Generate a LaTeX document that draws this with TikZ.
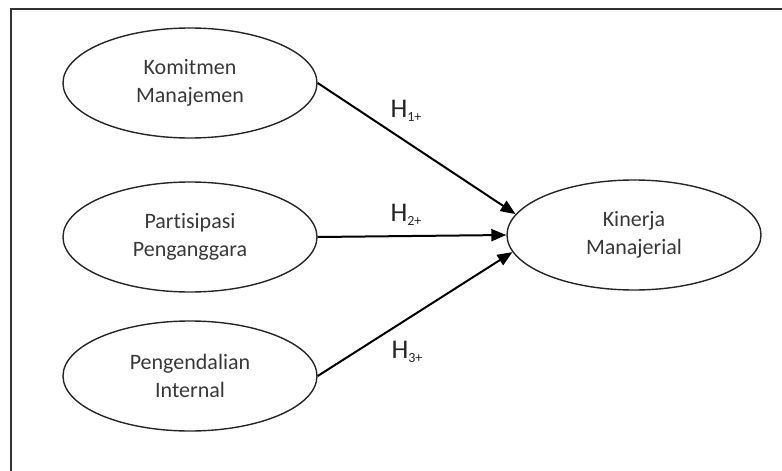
\documentclass[tikz,border=0pt]{standalone}
\usepackage{fontspec}
\setmainfont{Carlito}[RawFeature={-liga;-clig;-calt;-dlig}]
\usetikzlibrary{shapes.geometric,arrows.meta}
\newcommand{\hsubtxt}[1]{\raisebox{-4pt}{\fontsize{14}{14}\selectfont #1}}
\tikzset{
  latent/.style={ellipse,draw=black!85,line width=1.4pt,minimum width=254pt,minimum height=110pt,inner sep=0pt,align=center,text=black!78,font=\fontsize{22}{28}\selectfont},
  hyparrow/.style={line width=2pt,-{Triangle[length=15pt,width=12pt]}},
  hlabel/.style={inner sep=0pt,font=\fontsize{27}{27}\selectfont,text=black!85},
  framestyle/.style={line width=1.5pt,draw=black!80}
}
\begin{document}
\begin{tikzpicture}[x=1pt,y=-1pt]
\useasboundingbox (0,0) rectangle (782,471);
\draw[framestyle] (11,471) -- (11,9) -- (782,9);
\node[latent] (kom) at (190,83) {Komitmen\\Manajemen};
\node[latent] (par) at (190,237) {Partisipasi\\Penganggara};
\node[latent] (pen) at (190,376) {Pengendalian\\Internal};
\node[latent] (kin) at (634,235) {Kinerja\\Manajerial};
\draw[hyparrow] (kom.east) -- (kin.170);
\draw[hyparrow] (par.east) -- (kin.west);
\draw[hyparrow] (pen.east) -- (kin.188);
\node[hlabel] (h1) at (406,111) {H\hsubtxt{1+}};
\node[hlabel] (h2) at (406,215) {H\hsubtxt{2+}};
\node[hlabel] (h3) at (407,352) {H\hsubtxt{3+}};
\end{tikzpicture}
\end{document}
